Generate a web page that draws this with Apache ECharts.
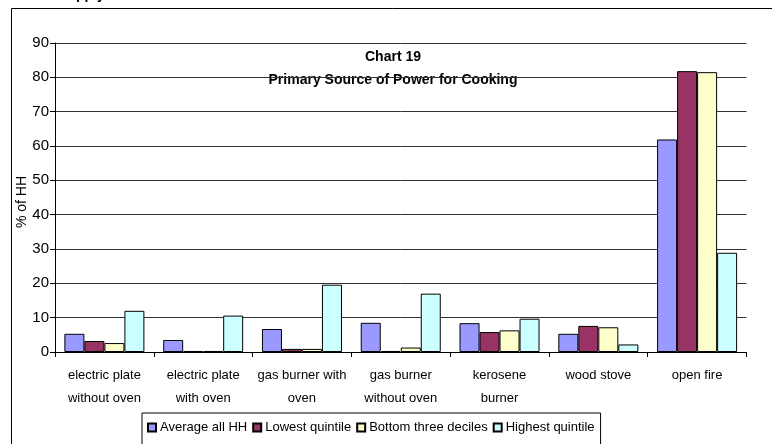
<!DOCTYPE html>
<html>
<head>
<meta charset="utf-8">
<script src="https://cdn.jsdelivr.net/npm/echarts@6/dist/echarts.min.js"></script>
<style>
  html, body { margin: 0; padding: 0; background: #fff; }
  #chart { width: 772px; height: 444px; }
</style>
</head>
<body>
<div id="chart"></div>
<script>
// Cooking power sources, by household group (% of households)
const categories = [
  'electric plate\nwithout oven',
  'electric plate\nwith oven',
  'gas burner with\noven',
  'gas burner\nwithout oven',
  'kerosene\nburner',
  'wood stove',
  'open fire'
];
const seriesNames = ['Average all HH', 'Lowest quintile', 'Bottom three deciles', 'Highest quintile'];
const averageAll      = [5.3, 3.5, 6.7, 8.5, 8.4, 5.3, 61.9];
const lowestQuintile  = [3.2, 0.3, 0.9, 0.3, 5.8, 7.6, 81.8];
const bottomThreeDec  = [2.6, 0.3, 0.9, 1.3, 6.3, 7.2, 81.5];
const highestQuintile = [12.0, 10.6, 19.6, 17.0, 9.7, 2.2, 28.9];
const yTicks = { min: 0, max: 90, step: 10 };

const colors = ['#9999FF', '#993366', '#FFFFCC', '#CCFFFF'];
const values = [averageAll, lowestQuintile, bottomThreeDec, highestQuintile];
const FONT = '"Liberation Sans", Arial, sans-serif';

const chart = echarts.init(document.getElementById('chart'), null, { renderer: 'canvas' });

chart.setOption({
  animation: false,
  backgroundColor: '#fff',
  textStyle: { fontFamily: FONT, color: '#000' },
  graphic: [
    {
      type: 'rect',
      shape: { x: 11.5, y: 8.5, width: 800, height: 500 },
      style: { fill: 'none', stroke: '#000', lineWidth: 1 },
      silent: true
    },
    {
      type: 'text',
      left: 58, top: -12,
      style: { text: 'Supply', font: 'bold 14px ' + FONT, fill: '#000' },
      silent: true
    },
    {
      type: 'text',
      x: 393, y: 57,
      style: { text: 'Chart 19', font: 'bold 14px ' + FONT, fill: '#000',
               align: 'center', verticalAlign: 'middle' },
      silent: true
    },
    {
      type: 'text',
      x: 393, y: 80,
      style: { text: 'Primary Source of Power for Cooking', font: 'bold 14px ' + FONT, fill: '#000',
               align: 'center', verticalAlign: 'middle' },
      silent: true
    },
    {
      type: 'text',
      x: 22, y: 202,
      rotation: Math.PI / 2,
      style: { text: '% of HH', font: '14px ' + FONT, fill: '#000',
               align: 'center', verticalAlign: 'middle' },
      silent: true
    }
  ],
  grid: { left: 55, top: 43, right: 25.5, bottom: 92, containLabel: false },
  legend: {
    data: seriesNames,
    left: 142, top: 413,
    padding: [8, 6, 12, 5],
    itemWidth: 8, itemHeight: 8, itemGap: 5,
    borderColor: '#000', borderWidth: 1,
    icon: 'rect',
    textStyle: { fontFamily: FONT, fontSize: 13, color: '#000', padding: [0, 0, 0, -1] }
  },
  xAxis: {
    type: 'category',
    data: categories,
    axisLine: { lineStyle: { color: '#000', width: 1 } },
    axisTick: { show: true, length: 5, lineStyle: { color: '#000' } },
    axisLabel: { fontFamily: FONT, fontSize: 13, color: '#000', lineHeight: 23, margin: 12, interval: 0 }
  },
  yAxis: {
    type: 'value',
    min: yTicks.min, max: yTicks.max, interval: yTicks.step,
    axisLine: { show: true, lineStyle: { color: '#000', width: 1 } },
    axisTick: { show: true, length: 5, lineStyle: { color: '#000' } },
    axisLabel: { fontFamily: FONT, fontSize: 15, color: '#000', margin: 6 },
    splitLine: { show: true, lineStyle: { color: '#333', width: 1 } }
  },
  series: seriesNames.map((name, i) => ({
    name,
    type: 'bar',
    data: values[i],
    barGap: '0%',
    barCategoryGap: '19%',
    itemStyle: { color: colors[i], borderColor: '#000', borderWidth: 1 }
  }))
});
</script>
</body>
</html>
